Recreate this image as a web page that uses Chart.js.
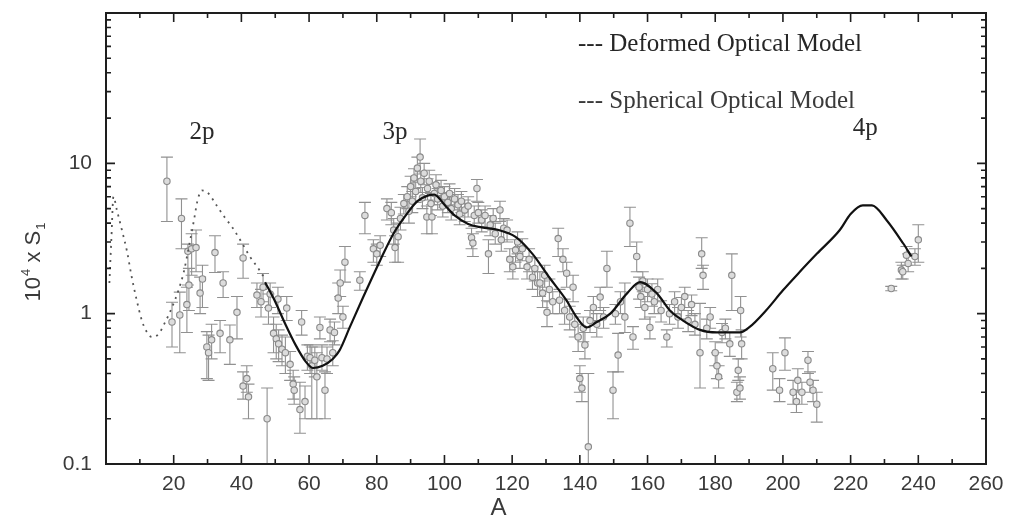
<!DOCTYPE html>
<html><head><meta charset="utf-8">
<script src="https://cdn.jsdelivr.net/npm/chart.js@4"></script>
<style>html,body{margin:0;padding:0;background:#fff}#wrap{width:1011px;height:518px;position:relative}</style>
</head><body><div id="wrap"><canvas id="c" width="1011" height="518"></canvas></div>
<script>
// ---- data ----
const massA = [18,19.5,21.8,22.3,23.9,24.2,24.5,25.3,26.6,27.8,28.5,29.8,30.3,31.2,32.2,33.7,34.6,36.6,38.7,40.5,40.5,41.6,42.1,44.6,45.8,46.4,47.6,48,48.5,49.5,50.3,50.8,51,52,53,53.4,54.4,55.3,55.6,57.3,57.8,58.8,59.5,60.3,60.8,61.7,62.3,63.2,63.8,64.7,65.3,66.2,67,67.5,68.6,69.2,70,70.6,75,76.5,79,80,81,83,84.3,85,85.4,86.3,87,88,89,89.5,90,90.5,91,91.5,92,92.8,93,93.5,94,94.8,95,95.5,96,96.3,97,97.5,98,99,99.5,100,101,101.5,102,103,104,104.5,105,106,107,108,108.4,108.8,109.6,110,111,112,113,113.5,114.4,115,116.4,116.8,117.5,118.5,119.3,120.2,121,121.6,122.3,123,124.4,125,126,126.7,127.5,128.2,129,129.6,130.3,131,132,133.6,134,135,135.5,136.1,137,138,138.5,139.5,140,140.6,141,141.5,142.5,143,144,145,146,147,148,149.8,150.5,151.3,152,153.3,154.8,155.7,156.8,157.5,158,158.6,159.2,160,160.7,161.3,162,163,164,165.7,166.5,168,169,170,171,172,173,174,175.5,176,176.4,177.5,178.5,180,180.5,181,182,183,184.3,184.9,186.4,186.8,187.3,187.5,187.8,197,199,200.6,203,204,204.4,205.6,207.4,208,208.9,210,232,235,235.4,236.5,237,239,240];
const sValue = [7.6,0.88,0.98,4.3,1.15,2.6,1.55,2.7,2.75,1.37,1.7,0.6,0.55,0.67,2.55,0.74,1.6,0.67,1.02,2.35,0.33,0.37,0.28,1.33,1.2,1.5,0.2,1.09,1.35,0.74,0.68,1.25,0.63,0.58,0.55,1.09,0.46,0.34,0.31,0.23,0.88,0.26,0.52,0.51,0.45,0.49,0.38,0.81,0.51,0.31,0.5,0.78,0.55,0.75,1.27,1.6,0.95,2.2,1.67,4.5,2.7,2.5,2.85,5.0,4.7,3.6,2.75,3.25,4.3,5.4,6.0,4.8,7.0,5.6,8.0,6.5,9.3,11,7.6,5.9,8.6,4.4,6.8,7.6,5.4,4.4,6.3,7.2,5.8,6.6,5.2,6.0,5.5,6.3,5.0,5.8,5.3,4.6,5.6,4.9,5.2,3.2,2.95,4.5,6.8,4.7,4.2,4.5,2.5,3.9,4.3,3.4,4.9,3.1,3.7,3.6,2.3,2.05,2.65,3.0,2.4,2.7,2.05,2.3,1.75,2.0,1.6,1.6,1.37,1.8,1.02,1.45,1.2,3.16,1.23,2.3,1.05,1.86,0.95,1.5,0.85,0.7,0.37,0.32,0.8,0.62,0.13,0.9,1.1,0.85,1.29,0.95,2.0,0.31,1.0,0.53,1.2,0.95,4.0,0.7,2.4,1.5,1.3,1.65,1.1,1.45,0.81,1.35,1.2,1.45,1.05,0.7,1.0,1.2,0.95,1.1,1.3,0.9,1.15,0.85,0.55,2.5,1.8,0.8,0.95,0.55,0.45,0.38,0.75,0.8,0.63,1.8,0.3,0.42,0.32,1.05,0.63,0.43,0.31,0.55,0.3,0.26,0.36,0.3,0.49,0.35,0.31,0.25,1.47,1.95,1.9,2.45,2.16,2.4,3.1];
const errLow = [4.1,0.6,0.55,2.7,0.75,1.55,1.05,1.8,1.9,1.0,1.1,0.37,0.36,0.5,1.88,0.55,1.28,0.46,0.68,1.72,0.27,0.3,0.2,1.1,0.95,1.2,0.1,0.85,1.1,0.55,0.5,1.0,0.48,0.45,0.4,0.9,0.36,0.27,0.25,0.16,0.72,0.2,0.42,0.4,0.2,0.38,0.2,0.68,0.42,0.2,0.4,0.65,0.45,0.62,1.0,1.3,0.8,1.62,1.43,3.4,2.2,2.1,2.4,4.2,3.9,2.9,2.2,2.2,3.6,4.6,5.0,4.0,6.0,4.7,6.8,5.5,7.8,8.5,6.4,5.0,7.2,3.4,5.7,6.4,4.5,3.4,5.3,6.1,4.9,5.6,4.4,5.1,4.7,5.3,4.2,4.9,4.5,3.9,4.7,4.1,4.4,2.7,2.4,3.8,5.6,4.0,3.5,3.8,1.85,3.3,3.6,2.9,4.1,2.6,3.1,3.0,1.9,1.7,2.2,2.5,2.0,2.25,1.7,1.9,1.45,1.65,1.3,1.3,1.1,1.5,0.82,1.2,1.0,2.4,1.0,1.9,0.85,1.5,0.78,1.2,0.7,0.56,0.3,0.26,0.65,0.5,0.1,0.75,0.9,0.7,1.05,0.8,1.5,0.2,0.85,0.41,1.0,0.75,2.8,0.58,1.9,1.25,1.1,1.4,0.92,1.2,0.68,1.12,1.0,1.2,0.88,0.6,0.85,1.0,0.8,0.92,1.1,0.76,0.97,0.72,0.32,2.0,1.45,0.68,0.8,0.45,0.37,0.32,0.64,0.68,0.52,1.05,0.26,0.36,0.27,0.7,0.5,0.31,0.26,0.42,0.25,0.22,0.3,0.25,0.4,0.3,0.26,0.19,1.42,1.7,1.7,2.1,1.9,2.1,2.2];
const errHigh = [11,1.19,1.39,5.8,1.5,2.9,2.0,3.4,3.6,1.75,2.1,0.76,0.72,0.85,3.3,0.9,1.9,0.84,1.3,2.9,0.41,0.45,0.34,1.6,1.45,1.85,0.32,1.35,1.6,0.95,0.85,1.5,0.78,0.72,0.7,1.3,0.56,0.42,0.38,0.35,1.05,0.33,0.62,0.62,0.6,0.6,0.55,0.95,0.62,0.41,0.6,0.92,0.66,0.88,1.6,1.95,1.12,2.8,1.9,5.5,3.1,2.9,3.3,5.8,5.5,4.3,3.3,4.0,5.1,6.2,7.0,5.6,8.2,6.5,9.2,7.5,11,14.5,8.8,6.9,10,5.2,7.9,9.0,6.3,5.3,7.3,8.4,6.8,7.7,6.1,7.0,6.4,7.3,5.9,6.8,6.2,5.4,6.5,5.7,6.0,3.7,3.4,5.2,7.8,5.5,4.9,5.2,3.1,4.5,5.0,4.0,5.6,3.6,4.3,4.2,2.7,2.4,3.1,3.5,2.8,3.15,2.4,2.7,2.05,2.35,1.9,1.9,1.65,2.1,1.22,1.7,1.4,3.7,1.45,2.7,1.25,2.2,1.12,1.8,1.0,0.85,0.45,0.4,0.95,0.75,0.4,1.05,1.3,1.0,1.5,1.1,2.6,0.41,1.15,0.74,1.4,1.6,5.1,0.82,3.0,1.75,1.5,1.9,1.3,1.7,0.95,1.58,1.4,1.7,1.22,0.78,1.15,1.4,1.1,1.28,1.5,1.05,1.33,1.0,1.17,3.2,2.1,0.92,1.1,0.65,0.55,0.45,0.86,0.92,0.75,2.5,0.35,0.5,0.38,1.3,0.78,0.55,0.37,0.69,0.36,0.31,0.43,0.35,0.56,0.41,0.36,0.3,1.52,2.2,2.1,2.8,2.5,2.7,3.9];

const deformedA = [47,50,53,56,59,61.2,64,67,69,72,76,81,85,89,92,95,97,100,103,107,111,116,121,126,131,136,139,142,145,149,154,157.8,162.7,166.6,170.5,175.5,180.5,187.3,190,195,200,205,210,216.8,220,223.6,226.3,230.7,235.5,238];
const deformedS = [1.62,1.2,0.85,0.62,0.48,0.435,0.45,0.5,0.57,0.81,1.29,2.26,3.43,4.65,5.6,6.1,6.2,5.3,4.5,3.95,3.75,3.6,3.24,2.5,1.74,1.23,0.95,0.81,0.88,1.0,1.37,1.62,1.37,1.05,0.9,0.78,0.75,0.75,0.81,1.05,1.43,1.9,2.5,3.6,4.6,5.25,5.25,4.17,2.94,2.4];
const sphericalA = [1,1.6,2.2,3.2,4.7,6.2,7.5,9,10.6,12,13.5,15.5,17.5,19.5,21.5,23,24.5,26,27,28.3,30,32.8,35,37.5,40,42.5,45,47];
const sphericalS = [1.6,3.2,6.0,4.9,3.6,2.6,1.8,1.25,0.9,0.76,0.7,0.73,0.88,1.1,1.45,1.9,2.8,4.2,5.6,6.6,6.4,5.2,4.4,3.7,3.0,2.4,2.0,1.7];

const xTickLabels = [20,40,60,80,100,120,140,160,180,200,220,240,260];
const yTickLabels = [0.1,1,10];
const legendLabels = ['--- Deformed Optical Model','--- Spherical Optical Model'];
const shellLabels = ['2p','3p','4p'];
const shellA = [28.4,85.4,224.3];
const shellY = [16,16,17.1];

// ---- plugin: frame, ticks, error bars, texts ----
const deco = {
  id:'deco',
  beforeDatasetsDraw(chart){
    const {ctx, chartArea:ca, scales:{x,y}} = chart;
    ctx.save();
    ctx.beginPath(); ctx.rect(ca.left, ca.top, ca.right-ca.left, ca.bottom-ca.top); ctx.clip();
    ctx.strokeStyle = '#919191'; ctx.lineWidth = 1.1;
    for (let i=0;i<massA.length;i++){
      const px = x.getPixelForValue(massA[i]);
      const pl = y.getPixelForValue(errLow[i]);
      const ph = y.getPixelForValue(errHigh[i]);
      ctx.beginPath();
      ctx.moveTo(px, pl); ctx.lineTo(px, ph);
      ctx.moveTo(px-6, ph); ctx.lineTo(px+6, ph);
      ctx.moveTo(px-6, pl); ctx.lineTo(px+6, pl);
      ctx.stroke();
    }
    ctx.restore();
  },
  afterDraw(chart){
    const {ctx, chartArea:ca, scales:{x,y}} = chart;
    ctx.save();
    ctx.strokeStyle = '#1e1e1e'; ctx.lineWidth = 2;
    ctx.strokeRect(ca.left, ca.top, ca.right-ca.left, ca.bottom-ca.top);
    ctx.lineWidth = 1.6;
    ctx.beginPath();
    for (let v=10; v<260; v+=10){
      const px = x.getPixelForValue(v);
      const len = (v%20===0) ? 9 : 5;
      ctx.moveTo(px, ca.bottom); ctx.lineTo(px, ca.bottom-len);
      ctx.moveTo(px, ca.top); ctx.lineTo(px, ca.top+len);
    }
    for (let d=0.1; d<100; d*=10){
      for (let m=1;m<10;m++){
        const v = d*m;
        const py = y.getPixelForValue(v);
        const len = (m===1) ? 9 : 5;
        ctx.moveTo(ca.left, py); ctx.lineTo(ca.left+len, py);
        ctx.moveTo(ca.right, py); ctx.lineTo(ca.right-len, py);
      }
    }
    ctx.stroke();

    // axis titles
    ctx.fillStyle = '#3a3a3a';
    ctx.font = '24px "Liberation Sans", Arial, sans-serif';
    ctx.textAlign = 'center'; ctx.textBaseline = 'middle';
    ctx.fillText('A', x.getPixelForValue(116), 508);

    ctx.save();
    ctx.translate(32, 262);
    ctx.rotate(-Math.PI/2);
    ctx.textAlign = 'left'; ctx.textBaseline = 'alphabetic';
    const big = '22px "Liberation Sans", Arial, sans-serif';
    const small = '13px "Liberation Sans", Arial, sans-serif';
    ctx.font = big; const w1 = ctx.measureText('10').width;
    ctx.font = small; const w2 = ctx.measureText('4').width;
    ctx.font = big; const w3 = ctx.measureText(' x S').width;
    ctx.font = small; const w4 = ctx.measureText('1').width;
    const total = w1+w2+w3+w4+2;
    let cx = -total/2; const base = 8;
    ctx.font = big; ctx.fillText('10', cx, base); cx += w1;
    ctx.font = small; ctx.fillText('4', cx+1, base-10); cx += w2+1;
    ctx.font = big; ctx.fillText(' x S', cx, base); cx += w3;
    ctx.font = small; ctx.fillText('1', cx+1, base+5);
    ctx.restore();

    // shell labels
    ctx.fillStyle = '#2a2a2a';
    ctx.font = '25px "Liberation Serif", "Times New Roman", serif';
    ctx.textAlign = 'center'; ctx.textBaseline = 'middle';
    for (let i=0;i<shellLabels.length;i++){
      ctx.fillText(shellLabels[i], x.getPixelForValue(shellA[i]), y.getPixelForValue(shellY[i]));
    }
    // legend texts
    ctx.textAlign = 'left';
    ctx.fillStyle = '#262626';
    ctx.fillText(legendLabels[0], 578, 44);
    ctx.fillStyle = '#3a3a3a';
    ctx.fillText(legendLabels[1], 578, 101);
    ctx.restore();
  }
};

const tickFont = {family:'"Liberation Sans", Arial, sans-serif', size:21};

new Chart(document.getElementById('c'), {
  type:'scatter',
  data:{
    datasets:[
      {
        label:'Deformed Optical Model', type:'line', showLine:true, order:0,
        data: deformedA.map((a,i)=>({x:a,y:deformedS[i]})),
        borderColor:'#111', borderWidth:2.2, pointRadius:0, fill:false,
        tension:0.4, cubicInterpolationMode:'monotone'
      },
      {
        label:'Spherical Optical Model', type:'line', showLine:true, order:0,
        data: sphericalA.map((a,i)=>({x:a,y:sphericalS[i]})),
        borderColor:'#555', borderWidth:1.8, borderDash:[2,5], pointRadius:0, fill:false,
        tension:0.4, cubicInterpolationMode:'monotone'
      },
      {
        label:'data', order:1,
        data: massA.map((a,i)=>({x:a,y:sValue[i]})),
        pointRadius:3.2, pointBorderWidth:1.1,
        borderColor:'#8a8a8a', backgroundColor:'#dcdcdc'
      }
    ]
  },
  options:{
    responsive:false, animation:false, devicePixelRatio:1,
    layout:{padding:{left:0, top:13, right:25, bottom:0}},
    plugins:{legend:{display:false}, tooltip:{enabled:false}},
    scales:{
      x:{
        type:'linear', min:0, max:260,
        afterBuildTicks(s){ s.ticks = xTickLabels.map(v=>({value:v})); },
        afterFit(s){ s.height = 54; s.paddingLeft = 0; s.paddingRight = 0; },
        grid:{display:false, drawTicks:false}, border:{display:false},
        ticks:{font:tickFont, color:'#3a3a3a', padding:8, autoSkip:false, maxRotation:0}
      },
      y:{
        type:'logarithmic', min:0.1, max:100,
        afterBuildTicks(s){ s.ticks = yTickLabels.map(v=>({value:v})); },
        afterFit(s){ s.width = 106; s.paddingTop = 0; s.paddingBottom = 0; },
        grid:{display:false, drawTicks:false}, border:{display:false},
        ticks:{font:tickFont, color:'#3a3a3a', padding:14, autoSkip:false,
          callback:(v)=> String(v)}
      }
    }
  },
  plugins:[deco]
});
</script></body></html>
